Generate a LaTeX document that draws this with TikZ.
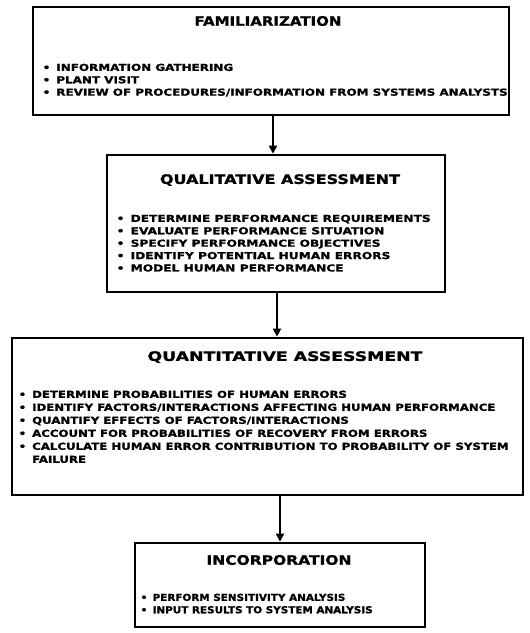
\documentclass[tikz,border=0pt]{standalone}
\usepackage{fontspec}
\setmainfont{DejaVu Sans}
\newfontfamily\heavy[FakeBold=1.2]{DejaVu Sans Bold}
\usetikzlibrary{arrows.meta}
\newcommand{\mylist}[2]{\resizebox{#1}{\height}{\begin{tabular}{@{}l@{}}#2\end{tabular}}}
\newcommand{\mytitle}[2]{\resizebox{#1}{\height}{#2}}
\newcommand{\bl}{\makebox[11pt][l]{\textbullet}}
\begin{document}
\begin{tikzpicture}[x=1pt,y=-1pt,
 box/.style={draw,line width=2.6pt,inner sep=0pt},
 ttl/.style={font=\heavy\fontsize{13}{13}\selectfont,inner sep=0pt},
 lst/.style={font=\heavy\fontsize{9.6}{12.4}\selectfont,anchor=north west,inner sep=0pt},
 lstw/.style={font=\heavy\fontsize{9.6}{13}\selectfont,anchor=north west,inner sep=0pt},
 conn/.style={line width=1.8pt,-{Triangle[width=8pt,length=8pt]}}]
\useasboundingbox (0,0) rectangle (530,633);
% boxes
\node[box,minimum width=476pt,minimum height=108pt] (b1) at (271,61) {};
\node[box,minimum width=338pt,minimum height=137pt] (b2) at (276,223.5) {};
\node[box,minimum width=511pt,minimum height=157pt] (b3) at (267.5,416.5) {};
\node[box,minimum width=290pt,minimum height=84pt] (b4) at (280,585) {};
% titles
\node[ttl] (t1) at (268,21) {\mytitle{147pt}{FAMILIARIZATION}};
\node[ttl] (t2) at (280,180) {\mytitle{240pt}{QUALITATIVE ASSESSMENT}};
\node[ttl] (t3) at (285,357) {\mytitle{275pt}{QUANTITATIVE ASSESSMENT}};
\node[ttl] (t4) at (279,560) {\mytitle{145pt}{INCORPORATION}};
% lists
\node[lst] (l1) at (42.5,62) {\mylist{465pt}{\bl INFORMATION GATHERING\\ \bl PLANT VISIT\\ \bl REVIEW OF PROCEDURES/INFORMATION FROM SYSTEMS ANALYSTS}};
\node[lst] (l2) at (116.5,213) {\mylist{314pt}{\bl DETERMINE PERFORMANCE REQUIREMENTS\\ \bl EVALUATE PERFORMANCE SITUATION\\ \bl SPECIFY PERFORMANCE OBJECTIVES\\ \bl IDENTIFY POTENTIAL HUMAN ERRORS\\ \bl MODEL HUMAN PERFORMANCE}};
\node[lstw] (l3) at (18.5,388.5) {\mylist{490pt}{\bl DETERMINE PROBABILITIES OF HUMAN ERRORS\\ \bl IDENTIFY FACTORS/INTERACTIONS AFFECTING HUMAN PERFORMANCE\\ \bl QUANTIFY EFFECTS OF FACTORS/INTERACTIONS\\ \bl ACCOUNT FOR PROBABILITIES OF RECOVERY FROM ERRORS\\ \bl CALCULATE HUMAN ERROR CONTRIBUTION TO PROBABILITY OF SYSTEM\\ \makebox[11pt]{}FAILURE}};
\node[lst] (l4) at (140.5,592) {\mylist{232pt}{\bl PERFORM SENSITIVITY ANALYSIS\\ \bl INPUT RESULTS TO SYSTEM ANALYSIS}};
% connectors
\coordinate (a1) at (273,0);
\coordinate (a2) at (277,0);
\coordinate (a3) at (280,0);
\draw[conn] (b1.south -| a1) -- (b2.north -| a1);
\draw[conn] (b2.south -| a2) -- (b3.north -| a2);
\draw[conn] (b3.south -| a3) -- (b4.north -| a3);
\end{tikzpicture}
\end{document}
